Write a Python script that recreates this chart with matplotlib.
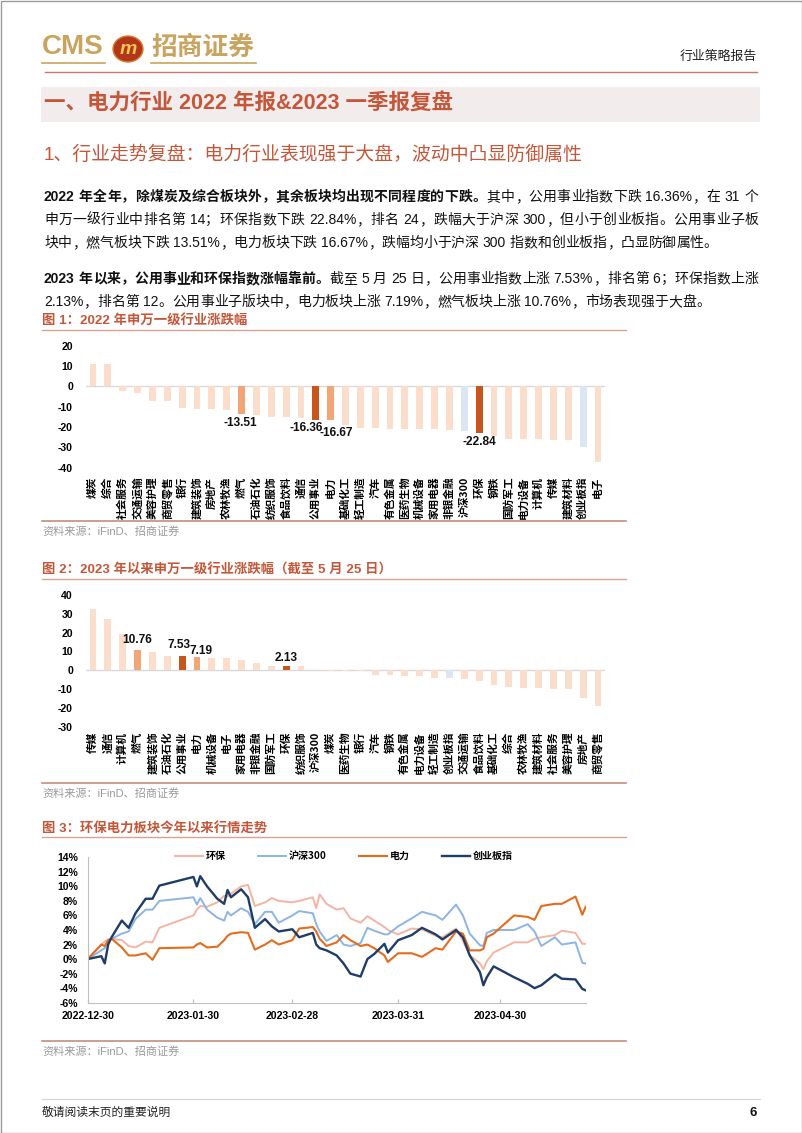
import re
import matplotlib
matplotlib.use("Agg")
import matplotlib.pyplot as plt
from matplotlib.patches import Rectangle, Ellipse
from matplotlib.ticker import FuncFormatter
import numpy as np
import pandas as pd

W, H = 802, 1133

# ---------------- data ----------------
# fig 1: 2022 SW level-1 industry change (%)
ind_2022 = ['煤炭', '综合', '社会服务', '交通运输', '美容护理', '商贸零售', '银行', '建筑装饰',
            '房地产', '农林牧渔', '燃气', '石油石化', '纺织服饰', '食品饮料', '通信', '公用事业',
            '电力', '基础化工', '轻工制造', '汽车', '有色金属', '医药生物', '机械设备', '家用电器',
            '非银金融', '沪深300', '环保', '钢铁', '国防军工', '电力设备', '计算机', '传媒',
            '建筑材料', '创业板指', '电子']
chg_2022 = [11.2, 10.8, -2.5, -3.3, -7.0, -7.2, -10.5, -11.2,
            -11.3, -11.8, -13.51, -14.2, -15.0, -15.3, -15.7, -16.36,
            -16.67, -19.2, -20.5, -20.5, -21.0, -20.9, -21.2, -21.2,
            -21.7, -22.0, -22.84, -24.2, -25.8, -25.8, -25.8, -26.3,
            -26.3, -29.7, -37.2]

# fig 2: 2023 YTD change (%) up to 5/25
ind_2023 = ['传媒', '通信', '计算机', '燃气', '建筑装饰', '石油石化', '公用事业', '电力',
            '机械设备', '电子', '家用电器', '非银金融', '国防军工', '环保', '纺织服饰', '沪深300',
            '煤炭', '医药生物', '银行', '汽车', '钢铁', '有色金属', '电力设备', '轻工制造',
            '创业板指', '交通运输', '食品饮料', '基础化工', '综合', '农林牧渔', '建筑材料', '社会服务',
            '美容护理', '房地产', '商贸零售']
chg_2023 = [32.4, 27.5, 19.5, 10.76, 9.8, 7.5, 7.53, 7.19,
            6.7, 6.4, 5.3, 4.1, 2.1, 2.13, 2.1, 0.3,
            -0.3, -0.5, -0.6, -2.3, -2.7, -3.0, -3.0, -3.9,
            -4.1, -4.8, -5.7, -7.6, -8.9, -9.4, -9.4, -9.8,
            -9.9, -14.5, -19.1]

# fig 3: cumulative change since 2022-12-30 (%)
trade_dates = ['2022-12-30', '2023-01-03', '2023-01-04', '2023-01-05', '2023-01-06', '2023-01-09',
               '2023-01-11', '2023-01-13', '2023-01-16', '2023-01-18', '2023-01-20', '2023-01-30',
               '2023-01-31', '2023-02-01', '2023-02-03', '2023-02-06', '2023-02-08', '2023-02-09',
               '2023-02-10', '2023-02-13', '2023-02-15', '2023-02-17', '2023-02-20', '2023-02-22',
               '2023-02-24', '2023-02-28', '2023-03-02', '2023-03-06', '2023-03-07', '2023-03-08',
               '2023-03-10', '2023-03-13', '2023-03-15', '2023-03-17', '2023-03-20', '2023-03-22',
               '2023-03-24', '2023-03-27', '2023-03-28', '2023-03-31', '2023-04-04', '2023-04-07',
               '2023-04-11', '2023-04-13', '2023-04-17', '2023-04-19', '2023-04-21', '2023-04-24',
               '2023-04-25', '2023-04-26', '2023-04-28', '2023-05-04', '2023-05-08', '2023-05-10',
               '2023-05-12', '2023-05-16', '2023-05-18', '2023-05-22', '2023-05-24', '2023-05-25']
env_prot = [0, 2.0, 2.4, 2.7, 2.8, 2.6, 1.8, 1.6, 2.4, 2.3, 4.3, 6.0,
            6.8, 7.3, 7.2, 7.8, 8.7, 8.6, 9.0, 10.0, 10.2, 7.3, 7.8, 8.4,
            8.0, 7.8, 8.0, 8.5, 7.0, 8.9, 7.6, 6.8, 7.0, 5.6, 5.0, 5.9,
            5.3, 4.4, 4.0, 3.4, 4.2, 4.1, 3.2, 3.0, 4.2, 2.5, 0.5, -0.6,
            -1.4, -0.3, 0.9, 2.3, 2.3, 2.8, 3.0, 3.3, 3.9, 3.6, 2.1, 2.1]
hs300 = [0, 1.2, 1.5, 2.4, 2.8, 3.5, 3.8, 5.5, 6.8, 6.8, 8.0, 8.5,
         7.5, 8.4, 6.8, 5.7, 5.3, 6.5, 6.0, 7.0, 6.5, 4.8, 6.5, 6.5,
         5.0, 6.0, 6.6, 6.3, 4.8, 3.8, 2.5, 3.3, 2.0, 1.8, 2.2, 4.3,
         3.9, 3.4, 3.4, 4.5, 5.6, 6.5, 6.0, 5.4, 7.5, 6.0, 3.5, 1.9,
         1.8, 3.6, 4.0, 4.0, 4.8, 3.8, 1.8, 3.0, 2.0, 2.3, -0.5, -0.6]
power = [0, 2.0, 1.8, 2.6, 2.8, 1.6, 0.5, 0.5, 0.8, -0.1, 1.5, 1.6,
         2.0, 2.2, 1.6, 1.7, 2.6, 3.2, 3.5, 3.7, 3.6, 1.3, 2.0, 2.6,
         2.0, 2.6, 4.2, 4.4, 3.8, 2.8, 1.8, 2.3, 3.3, 2.6, 1.8, 2.0,
         1.5, 0.5, -0.4, 0.8, 0.8, 0.3, 1.5, 1.3, 3.8, 3.5, 1.2, 1.2,
         1.4, 3.0, 3.5, 6.0, 5.8, 5.4, 7.3, 7.6, 7.6, 8.6, 6.1, 7.2]
gem = [0, 0.4, -0.6, 2.0, 3.0, 5.3, 4.3, 6.3, 8.3, 8.3, 10.1, 11.3,
       10.0, 11.4, 10.0, 8.3, 7.6, 9.5, 8.5, 9.6, 8.5, 4.3, 5.5, 4.5,
       3.8, 4.1, 3.0, 3.6, 2.0, 1.5, 1.2, 0.5, -0.6, -2.0, -2.4, 0.0,
       0.7, 2.1, 0.9, 2.6, 3.3, 4.3, 3.4, 2.7, 4.0, 3.0, 0.5, -1.8,
       -3.6, -2.5, -1.0, -2.5, -3.4, -4.0, -3.6, -2.1, -2.7, -2.8, -4.1, -4.3]
line_names = ['环保', '沪深300', '电力', '创业板指']
date_ticks = ['2022-12-30', '2023-01-30', '2023-02-28', '2023-03-31', '2023-04-30']

# ---------------- styles ----------------
GOLD = '#C8A45E'
RED = '#C4573A'
LIGHT, MID, DARK, BLUE = '#FBDDCC', '#F2A678', '#C8561C', '#DCE6F2'
DARK_SET, MID_SET, BLUE_SET = {'公用事业', '环保'}, {'燃气', '电力'}, {'沪深300', '创业板指'}

plt.rcParams['font.family'] = ['Liberation Sans', 'Noto Sans CJK SC', 'DejaVu Sans']
plt.rcParams['axes.unicode_minus'] = False

fig = plt.figure(figsize=(W / 100, H / 100), dpi=100)
bg = fig.add_axes([0, 0, 1, 1], zorder=0)
bg.set_xlim(0, W)
bg.set_ylim(H, 0)
bg.axis('off')


def rect(left, top, right, bottom):
    return [left / W, 1 - bottom / H, (right - left) / W, (bottom - top) / H]


TOKEN = re.compile(r'[0-9A-Za-z.%&]+|.')


def put_line(y, segs, x0=44, x1=None, size=10):
    """Place one line of body text, optionally justified between x0 and x1."""
    renderer = fig.canvas.get_renderer()
    arts = []
    for s, bold in segs:
        for t in TOKEN.findall(s):
            arts.append(bg.text(0, y, t, fontsize=size, va='center', ha='left', color='#111111',
                                fontweight='bold' if bold else 'normal'))
    widths = [a.get_window_extent(renderer).width for a in arts]
    gap = 0
    if x1 is not None and len(arts) > 1:
        gap = (x1 - x0 - sum(widths)) / (len(arts) - 1)
    x = x0
    for a, w in zip(arts, widths):
        a.set_x(x)
        x += w + gap


# ---------------- page furniture ----------------
bg.add_patch(Rectangle((0.5, 0.5), W - 1, H - 1, fill=False, edgecolor='#9a9a9a', lw=1))
bg.text(42, 47, 'CMS', fontsize=20, fontweight='bold', color=GOLD, va='center', ha='left',
        family='Liberation Sans')
bg.add_patch(Ellipse((128, 49), 30, 26, facecolor='#B3361A', edgecolor='#D9822E', lw=1))
bg.text(128, 49, 'm', fontsize=14, fontweight='bold', style='italic', color='#F3C552',
        va='center', ha='center')
bg.text(151, 47, '招商证券', fontsize=18.5, fontweight='bold', color=GOLD, va='center', ha='left',
        family='Noto Sans CJK SC')
bg.plot([42, 105], [63, 63], color=GOLD, lw=1.2)
bg.plot([151, 256], [63, 63], color=GOLD, lw=1.2)
bg.text(757, 57, '行业策略报告', fontsize=9.3, va='center', ha='right', color='#222222')
bg.plot([45, 757], [72, 72], color='#C87A66', lw=1)

bg.add_patch(Rectangle((41, 87), 719, 35, facecolor='#F2EDEC', edgecolor='none'))
bg.text(44, 104, '一、电力行业 2022 年报&2023 一季报复盘', fontsize=15.5, fontweight='bold',
        color=RED, va='center', ha='left')
bg.text(44, 155, '1、行业走势复盘：电力行业表现强于大盘，波动中凸显防御属性', fontsize=13.6,
        color=RED, va='center', ha='left')

put_line(197, [('2022 年全年，除煤炭及综合板块外，其余板块均出现不同程度的下跌。', True),
               ('其中，公用事业指数下跌 16.36%，在 31 个', False)], x1=758)
put_line(220, [('申万一级行业中排名第 14；环保指数下跌 22.84%，排名 24，跌幅大于沪深 300，但小于创业板指。公用事业子板', False)], x1=758)
put_line(243, [('块中，燃气板块下跌 13.51%，电力板块下跌 16.67%，跌幅均小于沪深 300 指数和创业板指，凸显防御属性。', False)])
put_line(279, [('2023 年以来，公用事业和环保指数涨幅靠前。', True),
               ('截至 5 月 25 日，公用事业指数上涨 7.53%，排名第 6；环保指数上涨', False)], x1=758)
put_line(302, [('2.13%，排名第 12。公用事业子版块中，电力板块上涨 7.19%，燃气板块上涨 10.76%，市场表现强于大盘。', False)])

captions = [(321, '图 1：2022 年申万一级行业涨跌幅'),
            (570, '图 2：2023 年以来申万一级行业涨跌幅（截至 5 月 25 日）'),
            (828, '图 3：环保电力板块今年以来行情走势')]
for y, s in captions:
    bg.text(42, y, s, fontsize=9.6, fontweight='bold', color=RED, va='center', ha='left')
    bg.plot([42, 626], [y + 9, y + 9], color='#D9A393', lw=1)

for y in (531, 793, 1051):
    bg.plot([42, 626], [y - 10, y - 10], color='#C09080', lw=1.2)
    bg.text(42, y, '资料来源：iFinD、招商证券', fontsize=8, color='#9a9a9a', va='center', ha='left')

bg.plot([42, 760], [1099, 1099], color='#D5D5D5', lw=0.8)
bg.text(42, 1113, '敬请阅读末页的重要说明', fontsize=8.5, color='#222222', va='center', ha='left')
bg.text(757, 1113, '6', fontsize=9.5, fontweight='bold', color='#111111', va='center', ha='right')


# ---------------- bar charts ----------------
def bar_chart(box, names, vals, ylim, yticks, xpad, labels):
    ax = fig.add_axes(box)
    ax.patch.set_alpha(0)
    colors = []
    for n in names:
        if n in DARK_SET:
            colors.append(DARK)
        elif n in MID_SET:
            colors.append(MID)
        elif n in BLUE_SET:
            colors.append(BLUE)
        else:
            colors.append(LIGHT)
    x = np.arange(len(names))
    ax.bar(x, vals, width=0.46, color=colors, zorder=2)
    ax.axhline(0, color='#D9D9D9', lw=1, zorder=1)
    ax.set_xlim(-0.5, len(names) - 0.5)
    ax.set_ylim(*ylim)
    ax.set_yticks(yticks)
    ax.set_yticklabels([str(t) for t in yticks], fontsize=7.6, fontweight='bold')
    ax.set_xticks(x)
    ax.set_xticklabels(names, rotation=90, fontsize=7.7, fontweight='bold', family='Noto Sans CJK SC')
    for s in ax.spines.values():
        s.set_visible(False)
    ax.tick_params(axis='y', length=0, pad=9)
    ax.tick_params(axis='x', length=0, pad=xpad)
    for name, (dx, dy) in labels.items():
        i = names.index(name)
        ax.annotate(f'{vals[i]:.2f}', xy=(i, vals[i]), xytext=(dx, dy), textcoords='offset points',
                    ha='center', va='center', fontsize=8.6, fontweight='bold', color='#111111')
    return ax


bar_chart(rect(85.6, 345.7, 605.4, 467.7), ind_2022, chg_2022, (-40, 20), list(range(-40, 21, 10)), 6.5,
          {'燃气': (-1, -6.4), '公用事业': (-7.2, -6), '电力': (4.3, -9.1), '环保': (0, -6.4)})
bar_chart(rect(85.6, 595.0, 605.4, 726.7), ind_2023, chg_2023, (-30, 40), list(range(-30, 41, 10)), 3.8,
          {'燃气': (0, 7.5), '公用事业': (-2.2, 7.9), '电力': (3.2, 4.1), '环保': (0, 6.1)})

# ---------------- line chart ----------------
ax3 = fig.add_axes(rect(87.7, 857.3, 585.7, 1002.7))
ax3.patch.set_alpha(0)
dates = pd.to_datetime(trade_dates)
series = [env_prot, hs300, power, gem]
styles = [('#F4B4A4', 1.4), ('#8DB4E2', 1.4), ('#E36C1E', 1.5), ('#1F3D68', 1.7)]
handles = []
for vals, (c, lw) in zip(series, styles):
    h, = ax3.plot(dates, vals, color=c, lw=lw)
    handles.append(h)
ax3.set_xlim(pd.Timestamp('2022-12-30'), pd.Timestamp('2023-05-25'))
ax3.set_ylim(-6, 14)
ax3.set_yticks(range(-6, 15, 2))
ax3.yaxis.set_major_formatter(FuncFormatter(lambda v, p: f'{v:.0f}%'))
ax3.set_xticks(pd.to_datetime(date_ticks))
ax3.set_xticklabels(date_ticks)
for lab in ax3.get_xticklabels() + ax3.get_yticklabels():
    lab.set_fontsize(7.6)
    lab.set_fontweight('bold')
for side in ('top', 'right'):
    ax3.spines[side].set_visible(False)
for side in ('left', 'bottom'):
    ax3.spines[side].set_color('#BFBFBF')
ax3.tick_params(axis='y', length=0, pad=7)
ax3.tick_params(axis='x', direction='in', length=3, color='#BFBFBF', pad=6)
ax3.legend(handles, line_names, ncol=4, frameon=False, loc='center left',
           bbox_to_anchor=(175 / W, 1 - 856 / H), bbox_transform=fig.transFigure,
           prop={'family': 'Noto Sans CJK SC', 'size': 7.2, 'weight': 'bold'},
           handlelength=2.8, handletextpad=0.3, columnspacing=3.2, borderpad=0, borderaxespad=0)

fig.savefig('out.png', dpi=100)
